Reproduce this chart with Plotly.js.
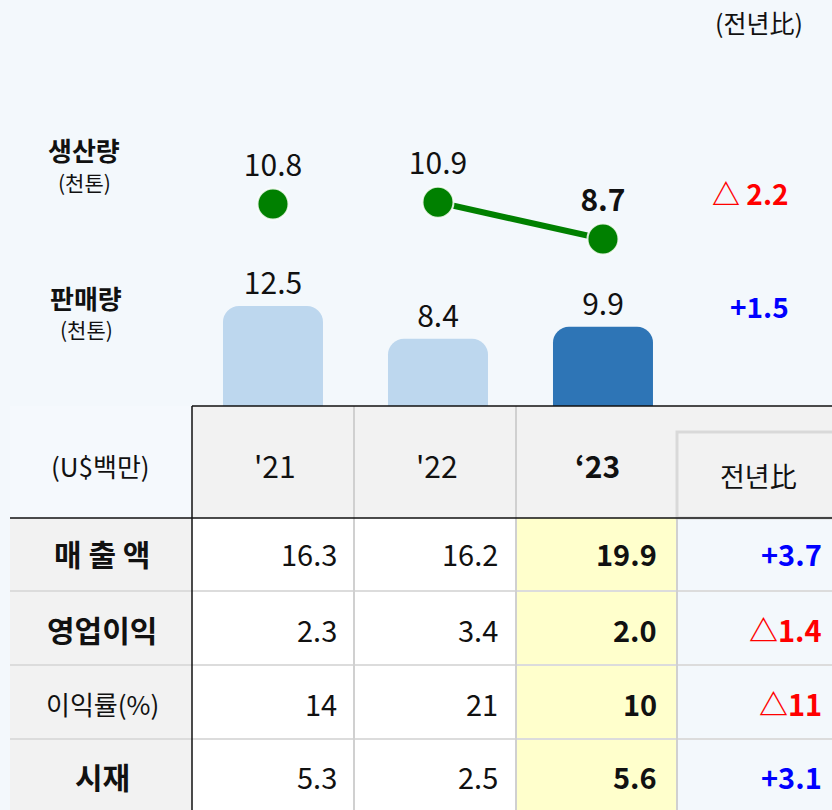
<!DOCTYPE html>
<html><head><meta charset="utf-8">
<script src="https://cdn.plot.ly/plotly-3.0.1.min.js"></script>
<style>html,body{margin:0;padding:0;background:#f3f8fc}</style>
</head><body><div id="chart" style="width:832px;height:810px"></div>
<script>
// ---- data ----
const years = ["'21", "'22", "‘23"];
const production = [10.8, 10.9, 8.7];     // 생산량 (천톤)
const sales = [12.5, 8.4, 9.9];           // 판매량 (천톤)
const productionChange = -2.2;
const salesChange = 1.5;
const rowLabels = ["매 출 액", "영업이익", "이익률(%)", "시재"];
const rowBold = [true, true, false, true];
const revenue = [16.3, 16.2, 19.9];
const opProfit = [2.3, 3.4, 2.0];
const marginPct = [14, 21, 10];
const cash = [5.3, 2.5, 5.6];
const yoy = [3.7, -1.4, -11, 3.1];
const rowDecimals = [1, 1, 0, 1];
const tableRows = [revenue, opProfit, marginPct, cash];

// ---- helpers ----
const W = 832, H = 810;
const FONT = "Noto Sans CJK KR, Noto Sans, sans-serif";
const px = x => x / W;
const py = y => 1 - y / H;
const fmtChange = (v, d, sp) => v < 0 ? "△" + (sp ? " " : "") + Math.abs(v).toFixed(d) : "+" + v.toFixed(d);
const chColor = v => v < 0 ? "#ff0000" : "#0000ff";
const BG = "#f3f8fc";

const barColors = ["#bdd7ee", "#bdd7ee", "#2e75b6"];

const traces = [
  {
    type: "bar", x: years, y: sales, xaxis: "x", yaxis: "y",
    width: 0.606,
    marker: {color: barColors, cornerradius: 16, line: {width: 0}},
    text: sales.map(v => v.toFixed(1)), textposition: "outside",
    textfont: {family: FONT, size: 30, color: "#111"},
    cliponaxis: false, hoverinfo: "skip"
  },
  {
    type: "scatter", mode: "markers+text", x: years.slice(0, 1), y: production.slice(0, 1),
    xaxis: "x", yaxis: "y2",
    marker: {color: "#008000", size: 31, line: {color: "rgba(255,255,255,0.85)", width: 2}},
    text: production.slice(0, 1).map(v => v.toFixed(1)), textposition: "top center",
    textfont: {family: FONT, size: 30, color: "#111"}, cliponaxis: false, hoverinfo: "skip"
  },
  {
    type: "scatter", mode: "lines+markers+text", x: years.slice(1), y: production.slice(1),
    xaxis: "x", yaxis: "y2",
    line: {color: "#008000", width: 6},
    marker: {color: "#008000", size: 31, line: {color: "rgba(255,255,255,0.85)", width: 2}},
    text: production.slice(1).map((v, i, a) => i === a.length - 1 ? "<b>" + v.toFixed(1) + "</b>" : v.toFixed(1)),
    textposition: "top center",
    textfont: {family: FONT, size: 30, color: "#111"}, cliponaxis: false, hoverinfo: "skip"
  }
];

// ---- table shapes ----
const shapes = [];
const rect = (x0, y0, x1, y1, fill, line) => shapes.push({
  type: "rect", xref: "paper", yref: "paper", x0: px(x0), x1: px(x1), y0: py(y1), y1: py(y0),
  fillcolor: fill, line: line || {width: 0}, layer: "below"
});
const seg = (x0, y0, x1, y1, color, width) => shapes.push({
  type: "line", xref: "paper", yref: "paper", x0: px(x0), x1: px(x1), y0: py(y0), y1: py(y1),
  line: {color: color, width: width}
});

const rowEdges = [518, 591, 665, 739, 810];
rect(10, 406, 192, 518, "#f5f9fd");
rect(192, 406, 832, 518, "#f2f2f2");
rect(10, 518, 192, 810, "#f2f2f2");
rect(192, 518, 516, 810, "#ffffff");
rect(516, 518, 677, 810, "#ffffcc");
rect(677, 518, 832, 810, BG);
// 전년比 header box
rect(677, 432, 840, 518, "#f2f2f2", {color: "#d9d9d9", width: 3});
// grid
for (let r = 1; r < 4; r++) seg(10, rowEdges[r], 832, rowEdges[r], "#dcdcdc", 2);
seg(354, 406, 354, 810, "#d0d0d0", 2);
seg(516, 406, 516, 810, "#d0d0d0", 2);
seg(677, 518, 677, 810, "#d0d0d0", 2);
seg(192, 406, 832, 406, "#111", 1.5);
seg(10, 518, 832, 518, "#111", 1.5);
seg(192, 406, 192, 810, "#111", 1.5);

// ---- annotations ----
const ann = [];
const txt = (x, y, text, size, opts) => ann.push(Object.assign({
  xref: "paper", yref: "paper", x: px(x), y: py(y), text: text, showarrow: false,
  xanchor: "center", yanchor: "middle",
  font: {family: FONT, size: size, color: "#111"}
}, opts || {}));

txt(759, 22, "(전년比)", 25);
txt(84, 150, "<b>생산량</b>", 26);
txt(84, 182, "(천톤)", 21);
txt(86, 297, "<b>판매량</b>", 26);
txt(86, 329, "(천톤)", 21);
txt(791, 193, "<b>" + fmtChange(productionChange, 1, true) + "</b>", 28,
  {xanchor: "right", font: {family: FONT, size: 28, color: chColor(productionChange)}});
txt(791, 306, "<b>" + fmtChange(salesChange, 1, false) + "</b>", 28,
  {xanchor: "right", font: {family: FONT, size: 28, color: chColor(salesChange)}});

// header
txt(100, 465, "(U$백만)", 26);
const colCenters = [275, 437, 597];
years.forEach((y, i) => txt(colCenters[i], 465, i === years.length - 1 ? "<b>" + y + "</b>" : y, 30));
txt(758, 475, "전년比", 27);

// body
const rowCenters = [553, 629, 703, 776];
const colRights = [339, 500, 659];
rowLabels.forEach((lab, r) => {
  txt(102, rowCenters[r], rowBold[r] ? "<b>" + lab + "</b>" : lab, rowBold[r] ? 30 : 26);
  tableRows[r].forEach((v, c) => {
    const s = v.toFixed(rowDecimals[r]);
    txt(colRights[c], rowCenters[r], c === 2 ? "<b>" + s + "</b>" : s, 29, {xanchor: "right"});
  });
  txt(824, rowCenters[r], "<b>" + fmtChange(yoy[r], rowDecimals[r], false) + "</b>", 29,
    {xanchor: "right", font: {family: FONT, size: 29, color: chColor(yoy[r])}});
});

const dom = [py(406), 0.99];
const layout = {
  width: W, height: H, margin: {l: 0, r: 0, t: 0, b: 0},
  paper_bgcolor: BG, plot_bgcolor: "rgba(0,0,0,0)",
  showlegend: false,
  xaxis: {type: "category", range: [-1.6545, 3.388], visible: false, fixedrange: true},
  yaxis: {domain: dom, range: [0, 49.74], visible: false, fixedrange: true},
  yaxis2: {domain: dom, range: [-1.3, 22.53], visible: false, fixedrange: true, anchor: "x"},
  shapes: shapes, annotations: ann,
  font: {family: FONT}
};
Plotly.newPlot("chart", traces, layout, {staticPlot: true, displayModeBar: false});
</script></body></html>
